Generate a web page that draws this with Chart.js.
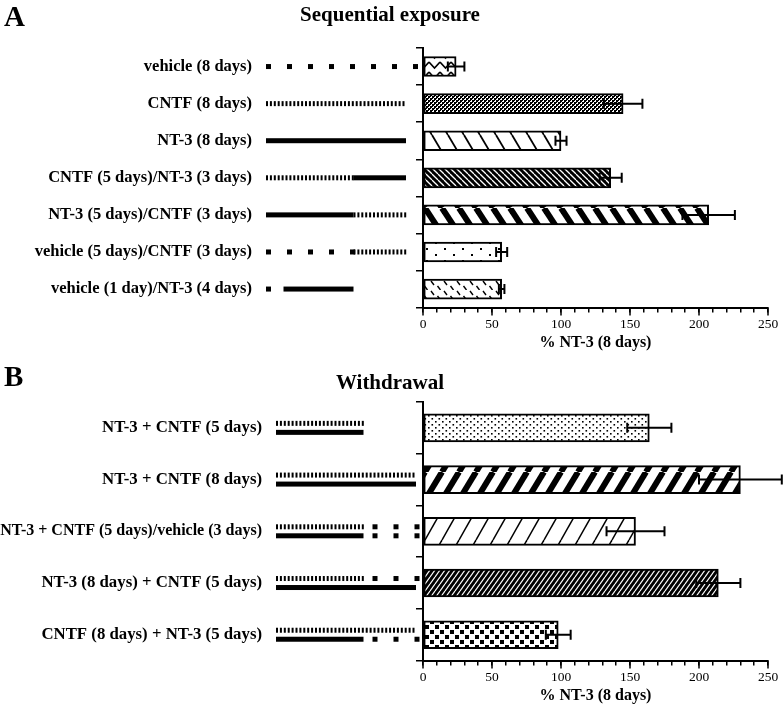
<!DOCTYPE html>
<html>
<head>
<meta charset="utf-8">
<script src="https://cdn.jsdelivr.net/npm/chart.js@4.4.1/dist/chart.umd.min.js"></script>
<style>
  body { margin: 0; background: #fff; }
  .panel { position: absolute; left: 0; width: 783px; }
  .tag { position: absolute; left: 4px; font: bold 29px "Liberation Serif", serif; line-height: 29px; color: #000; }
  .heading { position: absolute; left: 0; width: 780px; text-align: center;
             font: bold 21px "Liberation Serif", serif; line-height: 21px; color: #000; }
</style>
</head>
<body>
<div class="panel" style="top:0; height:352px"><canvas id="chart-seq"></canvas></div>
<div class="panel" style="top:360px; height:345px"><canvas id="chart-wd"></canvas></div>
<div class="tag" style="top:2px">A</div>
<div class="heading" style="top:4px">Sequential exposure</div>
<div class="tag" style="top:362px">B</div>
<div class="heading" style="top:372px">Withdrawal</div>

<script>
// ---------------------------------------------------------
// Data
// ---------------------------------------------------------

const seqLabels = [
  "vehicle (8 days)",
  "CNTF (8 days)",
  "NT-3 (8 days)",
  "CNTF (5 days)/NT-3 (3 days)",
  "NT-3 (5 days)/CNTF (3 days)",
  "vehicle (5 days)/CNTF (3 days)",
  "vehicle (1 day)/NT-3 (4 days)",
];
const seqValues = [24, 145, 100, 136, 207, 57, 57];
const seqErrors = [6, 14, 4, 8, 19, 4, 2];

// treatment schedule per row: [agent, fromDay, toDay, lane]
const seqSchedules = [
  [["vehicle", 0, 8, 0]],
  [["CNTF", 0, 8, 0]],
  [["NT-3", 0, 8, 0]],
  [["CNTF", 0, 5, 0], ["NT-3", 5, 8, 0]],
  [["NT-3", 0, 5, 0], ["CNTF", 5, 8, 0]],
  [["vehicle", 0, 5, 0], ["CNTF", 5, 8, 0]],
  [["vehicle", 0, 1, 0], ["NT-3", 1, 5, 0]],
];

const wdLabels = [
  "NT-3 + CNTF (5 days)",
  "NT-3 + CNTF (8 days)",
  "NT-3 + CNTF (5 days)/vehicle (3 days)",
  "NT-3 (8 days) + CNTF (5 days)",
  "CNTF (8 days) + NT-3 (5 days)",
];
const wdValues = [164, 230, 154, 214, 98];
const wdErrors = [16, 30, 21, 16, 9];

const wdSchedules = [
  [["CNTF", 0, 5, -1], ["NT-3", 0, 5, 1]],
  [["CNTF", 0, 8, -1], ["NT-3", 0, 8, 1]],
  [["CNTF", 0, 5, -1], ["vehicle", 5, 8, -1], ["NT-3", 0, 5, 1], ["vehicle", 5, 8, 1]],
  [["CNTF", 0, 5, -1], ["vehicle", 5, 8, -1], ["NT-3", 0, 8, 1]],
  [["CNTF", 0, 8, -1], ["NT-3", 0, 5, 1], ["vehicle", 5, 8, 1]],
];

const xMax = 250;
const xMinorStep = 10;
const xLabelStep = 50;
const xTitle = "% NT-3 (8 days)";

// ---------------------------------------------------------
// Fill patterns (one per bar, as in the printed figure)
// ---------------------------------------------------------

function tile(w, h, bg) {
  const c = document.createElement("canvas");
  c.width = w; c.height = h;
  const ctx = c.getContext("2d");
  ctx.fillStyle = bg;
  ctx.fillRect(0, 0, w, h);
  return { c, ctx };
}

function diagonal(w, h, lw, dir, bg, fg) {
  const { c, ctx } = tile(w, h, bg);
  ctx.strokeStyle = fg;
  ctx.lineWidth = lw;
  for (const dx of [-w, 0, w]) {
    ctx.beginPath();
    if (dir === "back") { ctx.moveTo(dx, 0); ctx.lineTo(dx + w, h); }
    else { ctx.moveTo(dx, h); ctx.lineTo(dx + w, 0); }
    ctx.stroke();
  }
  return c;
}

function makePattern(kind) {
  let c;
  if (kind === "zigzag") {
    const t = tile(11, 10, "#fff");
    t.ctx.strokeStyle = "#000"; t.ctx.lineWidth = 1.6;
    t.ctx.beginPath(); t.ctx.moveTo(0, 2); t.ctx.lineTo(5.5, 8); t.ctx.lineTo(11, 2); t.ctx.stroke();
    c = t.c;
  } else if (kind === "stipple") {
    const t = tile(4, 4, "#fff");
    t.ctx.fillStyle = "#000";
    t.ctx.fillRect(0, 0, 2, 2); t.ctx.fillRect(2, 2, 2, 2);
    t.ctx.fillRect(2, 0, 1, 1); t.ctx.fillRect(0, 2, 1, 1);
    c = t.c;
  } else if (kind === "backThin") {
    c = diagonal(16, 27, 1.8, "back", "#fff", "#000");
  } else if (kind === "backDense") {
    c = diagonal(6, 6, 1.3, "back", "#000", "#fff");
  } else if (kind === "backThick") {
    c = diagonal(17, 26, 6, "back", "#fff", "#000");
  } else if (kind === "sparseDots") {
    const t = tile(18, 12, "#fff");
    t.ctx.fillStyle = "#000";
    t.ctx.fillRect(3, 2, 2, 2); t.ctx.fillRect(12, 8, 2, 2);
    c = t.c;
  } else if (kind === "dashes") {
    const t = tile(13, 10, "#fff");
    t.ctx.strokeStyle = "#000"; t.ctx.lineWidth = 1.4;
    t.ctx.beginPath();
    t.ctx.moveTo(2, 1); t.ctx.lineTo(5, 5);
    t.ctx.moveTo(8.5, 6); t.ctx.lineTo(11.5, 10);
    t.ctx.stroke();
    c = t.c;
  } else if (kind === "denseDots") {
    const t = tile(7, 6, "#fff");
    t.ctx.fillStyle = "#000";
    t.ctx.fillRect(1, 1, 1.6, 1.6); t.ctx.fillRect(4.5, 4, 1.6, 1.6);
    c = t.c;
  } else if (kind === "fwdThick") {
    c = diagonal(17, 28, 6, "fwd", "#fff", "#000");
  } else if (kind === "fwdThin") {
    c = diagonal(17, 30, 1.5, "fwd", "#fff", "#000");
  } else if (kind === "fwdDense") {
    c = diagonal(5, 7, 1.2, "fwd", "#000", "#fff");
  } else {
    const t = tile(10, 10, "#fff");
    t.ctx.fillStyle = "#000";
    t.ctx.fillRect(0, 0, 4, 4); t.ctx.fillRect(5, 5, 4, 4);
    c = t.c;
  }
  return document.createElement("canvas").getContext("2d").createPattern(c, "repeat");
}

const seqFills = ["zigzag", "stipple", "backThin", "backDense", "backThick", "sparseDots", "dashes"];
const wdFills = ["denseDots", "fwdThick", "fwdThin", "fwdDense", "blocks"];

// ---------------------------------------------------------
// Plugins: error bars, longer major x ticks, and the
// treatment schematic drawn left of the y axis
// ---------------------------------------------------------

const errorBarPlugin = {
  id: "errorBars",
  afterDatasetsDraw(chart, args, opts) {
    const { ctx, chartArea, scales: { x } } = chart;
    const meta = chart.getDatasetMeta(0);
    ctx.save();
    ctx.strokeStyle = "#000";
    ctx.lineWidth = 2;
    meta.data.forEach((bar, i) => {
      const v = chart.data.datasets[0].data[i];
      const e = opts.errors[i];
      const x0 = x.getPixelForValue(v - e);
      const x1 = x.getPixelForValue(v + e);
      ctx.beginPath();
      ctx.moveTo(x0, bar.y); ctx.lineTo(x1, bar.y);
      ctx.moveTo(x0, bar.y - 5); ctx.lineTo(x0, bar.y + 5);
      ctx.moveTo(x1, bar.y - 5); ctx.lineTo(x1, bar.y + 5);
      ctx.stroke();
    });
    // major ticks reach a little further below the axis
    ctx.lineWidth = 1.5;
    ctx.beginPath();
    for (let v = 0; v <= xMax; v += xLabelStep) {
      const px = x.getPixelForValue(v);
      ctx.moveTo(px, chartArea.bottom);
      ctx.lineTo(px, chartArea.bottom + 8);
    }
    ctx.stroke();
    ctx.restore();
  },
};

const schematicPlugin = {
  id: "schematic",
  afterDraw(chart, args, opts) {
    const { ctx, chartArea, scales: { y } } = chart;
    const origin = chartArea.left - opts.inset;
    const dayPx = 17.5;
    ctx.save();
    ctx.fillStyle = "#000";
    opts.schedules.forEach((row, i) => {
      const cy = y.getPixelForValue(i);
      row.forEach(([agent, from, to, lane]) => {
        const x0 = origin + from * dayPx;
        const x1 = origin + to * dayPx;
        const ly = cy + lane * 4.5;
        if (agent === "NT-3") {
          ctx.fillRect(x0, ly - 2.5, x1 - x0, 5);
        } else if (agent === "CNTF") {
          for (let xx = x0; xx < x1 - 1; xx += 3.9) ctx.fillRect(xx, ly - 2.5, 2, 5);
        } else {
          const start = x0 + (from > 0 ? 9 : 0);
          for (let k = 0; k < to - from; k++) ctx.fillRect(start + 21 * k, ly - 2.5, 5, 5);
        }
      });
    });
    ctx.restore();
  },
};

// ---------------------------------------------------------
// Chart builder
// ---------------------------------------------------------

const serif = "'Liberation Serif', 'Times New Roman', serif";

function buildChart(canvasId, cfg) {
  return new Chart(document.getElementById(canvasId), {
    type: "bar",
    data: {
      labels: cfg.labels,
      datasets: [{
        data: cfg.values,
        backgroundColor: cfg.fills.map(makePattern),
        borderColor: "#000",
        borderWidth: 2,
        borderSkipped: false,
        barThickness: cfg.barThickness,
      }],
    },
    options: {
      indexAxis: "y",
      responsive: true,
      maintainAspectRatio: false,
      animation: false,
      layout: { padding: { left: 0, right: 15, top: cfg.topPad, bottom: 0 } },
      plugins: {
        legend: { display: false },
        tooltip: { enabled: false },
        errorBars: { errors: cfg.errors },
        schematic: { schedules: cfg.schedules, inset: cfg.inset },
      },
      scales: {
        x: {
          min: 0,
          max: xMax,
          border: { color: "#000", width: 2 },
          grid: { drawOnChartArea: false, color: "#000", lineWidth: 1.5, tickLength: 5 },
          ticks: {
            stepSize: xMinorStep,
            autoSkip: false,
            maxRotation: 0,
            padding: 4,
            color: "#000",
            font: { family: serif, size: 13.5 },
            callback: (v) => (v % xLabelStep === 0 ? v : ""),
          },
          title: {
            display: true,
            text: xTitle,
            color: "#000",
            font: { family: serif, size: 16, weight: "bold" },
            padding: { top: -4, bottom: 0 },
          },
        },
        y: {
          border: { color: "#000", width: 2 },
          grid: { drawOnChartArea: false, color: "#000", lineWidth: 1.5, tickLength: 7 },
          ticks: {
            padding: cfg.labelPad,
            color: "#000",
            font: (c) => ({
              family: serif,
              weight: "bold",
              size: (cfg.labels[c.index] || "").length > 32 ? 16 : cfg.labelSize,
            }),
          },
          afterFit: (scale) => {
            scale.width = 423;
            scale.paddingTop = 0;
            scale.paddingBottom = 0;
          },
        },
      },
    },
    plugins: [errorBarPlugin, schematicPlugin],
  });
}

buildChart("chart-seq", {
  labels: seqLabels,
  values: seqValues,
  errors: seqErrors,
  schedules: seqSchedules,
  fills: seqFills,
  topPad: 48,
  barThickness: 20,
  labelPad: 164,
  labelSize: 16.5,
  inset: 157,
});

buildChart("chart-wd", {
  labels: wdLabels,
  values: wdValues,
  errors: wdErrors,
  schedules: wdSchedules,
  fills: wdFills,
  topPad: 42,
  barThickness: 28,
  labelPad: 154,
  labelSize: 16.8,
  inset: 147,
});
</script>
</body>
</html>
